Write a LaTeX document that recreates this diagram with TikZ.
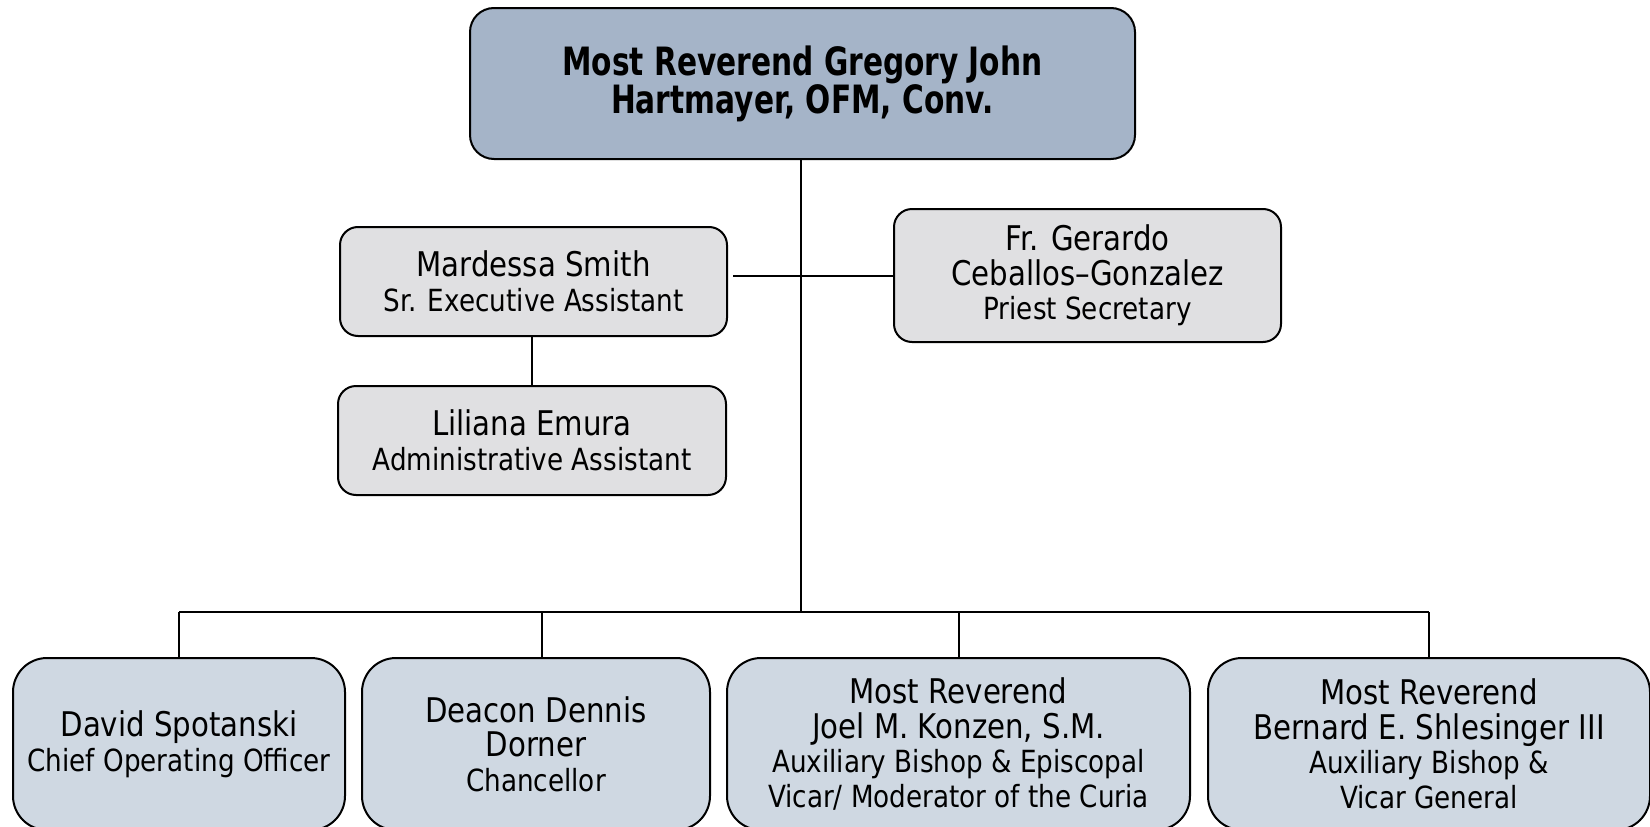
\documentclass[tikz,border=0pt]{standalone}
\usepackage{fontspec}
\setmainfont{DejaVu Sans}[FakeStretch=0.86]
\newfontfamily\topfont{DejaVu Sans}[FakeStretch=0.76]
\definecolor{topfill}{HTML}{A5B4C8}
\definecolor{midfill}{HTML}{E0E0E2}
\definecolor{botfill}{HTML}{CFD8E2}
\newcommand{\nmfont}{\fontsize{34}{34.5}\selectfont}
\newcommand{\ttfnt}{\fontsize{30.5}{34.5}\selectfont}
\begin{document}
\begin{tikzpicture}[x=1pt,y=-1pt,
  box/.style={draw=black,line width=2pt,align=center,inner sep=0pt,font=\ttfnt},
  topbox/.style={box,fill=topfill,rounded corners=24pt,font=\topfont\bfseries\fontsize{39}{38}\selectfont},
  midbox/.style={box,fill=midfill,rounded corners=18pt},
  botbox/.style={box,fill=botfill,rounded corners=34pt},
  conn/.style={line width=2pt},
]
\useasboundingbox (0,0) rectangle (1650,827);
\begin{scope}
\clip (0,0) rectangle (1650,827);
% top
\node[topbox,minimum width=665pt,minimum height=151pt] (top) at (802.5,83.5)
  {Most Reverend Gregory John\\Hartmayer, OFM, Conv.};
% middle
\node[midbox,minimum width=387pt,minimum height=109pt] (mard) at (533.5,281.5)
  {{\nmfont Mardessa Smith}\\Sr. Executive Assistant};
\node[midbox,minimum width=388pt,minimum height=109pt] (lil) at (532,440.5)
  {{\nmfont Liliana Emura}\\Administrative Assistant};
\node[midbox,minimum width=387pt,minimum height=133pt] (ger) at (1087.5,275.5)
  {{\nmfont Fr. Gerardo}\\{\nmfont Ceballos–Gonzalez}\\Priest Secretary};
% bottom
\node[botbox,minimum width=332pt,minimum height=172pt] (b1) at (179,744)
  {{\nmfont David Spotanski}\\Chief Operating Officer};
\node[botbox,minimum width=348pt,minimum height=172pt] (b2) at (536,744)
  {{\nmfont Deacon Dennis}\\{\nmfont Dorner}\\Chancellor};
\node[botbox,minimum width=463pt,minimum height=172pt] (b3) at (958.5,744)
  {{\nmfont Most Reverend}\\{\nmfont Joel M. Konzen, S.M.}\\Auxiliary Bishop \& Episcopal\\Vicar/ Moderator of the Curia};
\node[botbox,minimum width=442pt,minimum height=172pt] (b4) at (1429,744)
  {{\nmfont Most Reverend}\\{\nmfont Bernard E. Shlesinger III}\\Auxiliary Bishop \&\\Vicar General};
\end{scope}
% connectors
\coordinate (j) at (801,612);
\coordinate (jl) at (179,612);
\coordinate (jr) at (1429,612);
\coordinate (j2) at (542,612);
\draw[conn] (top.south -| j) -- (j);
\draw[conn] (jl) -- (jr);
\draw[conn] (jl) -- (b1.north -| jl);
\draw[conn] (j2) -- (b2.north -| j2);
\draw[conn] (j -| b3.north) -- (b3.north);
\draw[conn] (jr) -- (b4.north -| jr);
\draw[conn] ([xshift=5pt]mard.east |- ger.west) -- (ger.west);
\draw[conn] (lil.north |- mard.south) -- (lil.north);
\end{tikzpicture}
\end{document}
